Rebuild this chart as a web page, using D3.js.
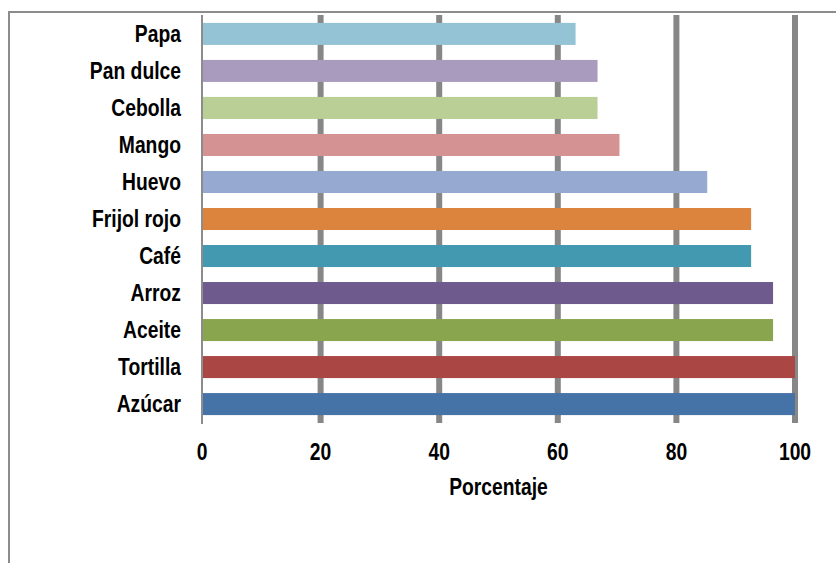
<!DOCTYPE html>
<html>
<head>
<meta charset="utf-8">
<script src="https://cdn.jsdelivr.net/npm/d3@7"></script>
<style>
  body { margin: 0; background: #fff; }
  text { font-family: "Liberation Sans Narrow", "Arial Narrow", "Liberation Sans", Arial, sans-serif; font-weight: bold; fill: #000; font-size: 23px; }
</style>
</head>
<body>
<svg id="canvas" width="836" height="563"></svg>
<script>
// top to bottom, as in the picture
const foods = ["Papa", "Pan dulce", "Cebolla", "Mango", "Huevo", "Frijol rojo", "Café", "Arroz", "Aceite", "Tortilla", "Azúcar"]
const pct = [63.0, 66.7, 66.7, 70.4, 85.2, 92.6, 92.6, 96.3, 96.3, 100, 100]
const colors = ["#93c3d5", "#a99bbd", "#b9cf96", "#d49392", "#95a9d1", "#dc843e", "#4299b0", "#6f5a8e", "#89a54e", "#aa4643", "#4572a7"]
const ticks = [0, 20, 40, 60, 80, 100]

// no narrow font installed, so squeeze the regular one
const squeeze = 0.84

const svg = d3.select("#canvas")

// chart frame (only left and top edges show)
svg.append("path")
  .attr("d", "M9,563 V12 H836")
  .attr("fill", "none")
  .attr("stroke", "#8c8c8c")
  .attr("stroke-width", 2)

const x = d3.scaleLinear().domain([0, 100]).range([202, 795])
const y = d3.scaleBand().domain(foods).range([15.5, 422.5]).paddingInner(0.405).paddingOuter(0.2)

// gridlines
svg.append("g")
  .selectAll("line")
  .data(ticks.slice(1))
  .enter().append("line")
  .attr("x1", d => x(d)).attr("x2", d => x(d))
  .attr("y1", 15).attr("y2", 423)
  .attr("stroke", "#878787")
  .attr("stroke-width", 6)

// bars
svg.append("g")
  .selectAll("rect")
  .data(foods)
  .enter().append("rect")
  .attr("x", x(0))
  .attr("y", d => y(d))
  .attr("width", (d, i) => x(pct[i]) - x(0))
  .attr("height", y.bandwidth())
  .attr("fill", (d, i) => colors[i])

// value axis line
svg.append("line")
  .attr("x1", x(0)).attr("x2", x(0))
  .attr("y1", 15).attr("y2", 424)
  .attr("stroke", "#8c8c8c")
  .attr("stroke-width", 2)

// category labels
svg.append("g")
  .selectAll("text")
  .data(foods)
  .enter().append("text")
  .attr("transform", d => `translate(181,${y(d) + y.bandwidth() / 2}) scale(${squeeze},1)`)
  .attr("dy", "0.36em")
  .attr("text-anchor", "end")
  .text(d => d)

// tick labels
svg.append("g")
  .selectAll("text")
  .data(ticks)
  .enter().append("text")
  .attr("transform", d => `translate(${x(d)},460) scale(${squeeze},1)`)
  .attr("text-anchor", "middle")
  .text(d => d)

svg.append("text")
  .attr("transform", `translate(${(x(0) + x(100)) / 2},495) scale(${squeeze},1)`)
  .attr("text-anchor", "middle")
  .text("Porcentaje")
</script>
</body>
</html>
